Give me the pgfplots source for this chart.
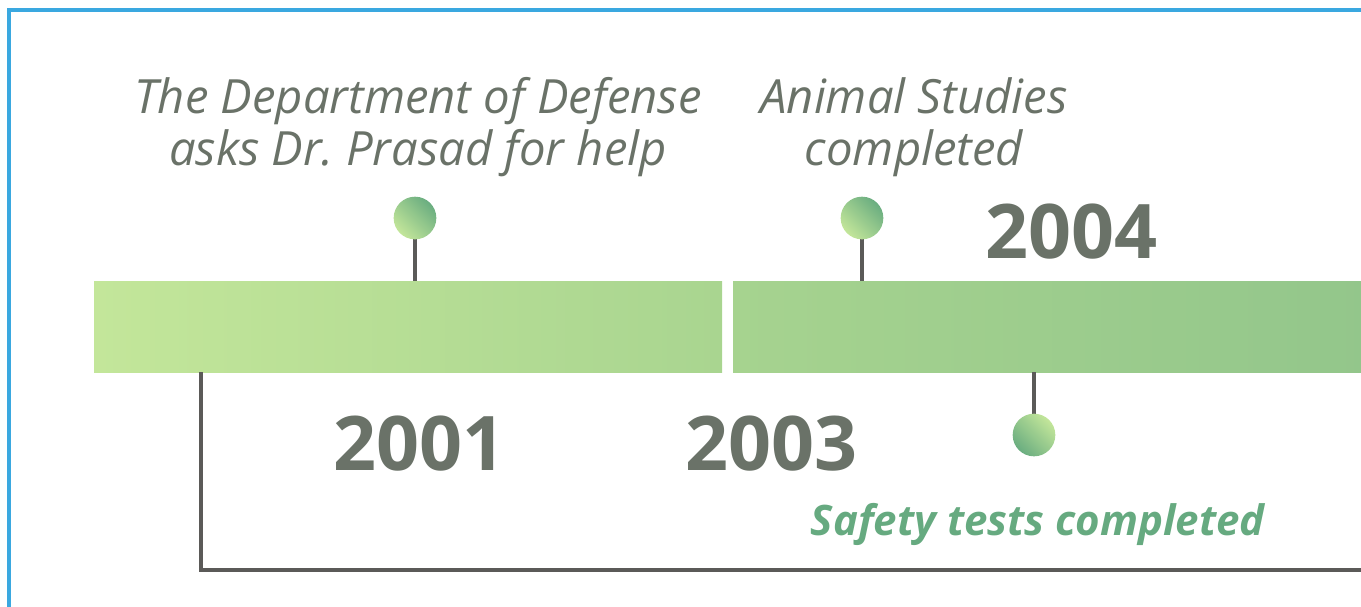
\documentclass[border=0pt]{standalone}
\usepackage{pgfplots}
\pgfplotsset{compat=1.18}
\usepackage{fontspec}
\setmainfont{Open Sans}
\usetikzlibrary{shadings}
\frenchspacing
\definecolor{txtgray}{HTML}{6A7268}
\definecolor{txtgreen}{HTML}{66AA80}
\definecolor{linegray}{HTML}{5B5A58}
\definecolor{frameblue}{HTML}{3AA8E0}
\definecolor{gA}{HTML}{C3E69A}
\definecolor{gB}{HTML}{A9D590}
\definecolor{gC}{HTML}{A6D38F}
\definecolor{gD}{HTML}{93C68B}
\definecolor{cLight}{HTML}{C3E69A}
\definecolor{cDark}{HTML}{6AAD80}
\begin{document}
\begin{tikzpicture}
\path[use as bounding box] (0,-455.25pt) rectangle (1020.75pt,0pt);
\begin{axis}[x=0.75pt, y=0.75pt, y dir=reverse,
  xmin=0, xmax=1361, ymin=0, ymax=607,
  hide axis, clip=true, anchor=north west, at={(0pt,0pt)}]
% bars
\addplot[draw=none, left color=gA, right color=gB] coordinates {(94,281) (722,281) (722,372) (94,372)} -- cycle;
\addplot[draw=none, left color=gC, right color=gD] coordinates {(733,281) (1370,281) (1370,372) (733,372)} -- cycle;
% stems
\addplot[linegray, line width=2.4pt] coordinates {(415,238) (415,281)};
\addplot[linegray, line width=2.4pt] coordinates {(862,238) (862,281)};
\addplot[linegray, line width=2.4pt] coordinates {(1034,372) (1034,415)};
% bracket
\addplot[linegray, line width=2.4pt] coordinates {(201,372) (201,570) (1375,570)};
% frame
\addplot[frameblue, line width=2.4pt] coordinates {(9,640) (9,10) (1400,10)};
% circles
\addplot[draw=none, mark=none, nodes near coords={}, 
  every node near coord/.append style={anchor=center, circle, inner sep=0pt, minimum size=32pt, top color=cDark, bottom color=cLight, shading angle=-45}]
  coordinates {(415,218) (862,218)};
\addplot[draw=none, mark=none, nodes near coords={}, 
  every node near coord/.append style={anchor=center, circle, inner sep=0pt, minimum size=32pt, top color=cLight, bottom color=cDark, shading angle=-45}]
  coordinates {(1034,435)};
% texts
\node[anchor=base, text=txtgray, font=\itshape\fontsize{35.4}{40}\selectfont] at (axis cs:418,113) {The Department of Defense};
\node[anchor=base, text=txtgray, font=\itshape\fontsize{35.4}{40}\selectfont] at (axis cs:418,165) {asks Dr.\ Prasad for help};
\node[anchor=base, text=txtgray, font=\itshape\fontsize{35.4}{40}\selectfont] at (axis cs:914,113) {Animal Studies};
\node[anchor=base, text=txtgray, font=\itshape\fontsize{35.4}{40}\selectfont] at (axis cs:914,165) {completed};
\node[anchor=base, text=txtgray, font=\bfseries\fontsize{56.5}{60}\selectfont] at (axis cs:419,470) {2001};
\node[anchor=base, text=txtgray, font=\bfseries\fontsize{56.5}{60}\selectfont] at (axis cs:771,470) {2003};
\node[anchor=base, text=txtgray, font=\bfseries\fontsize{56.5}{60}\selectfont] at (axis cs:1071,258) {2004};
\node[anchor=base, text=txtgreen, font=\bfseries\itshape\fontsize{31.5}{36}\selectfont] at (axis cs:1038,535) {Safety tests completed};
\end{axis}
\end{tikzpicture}
\end{document}
